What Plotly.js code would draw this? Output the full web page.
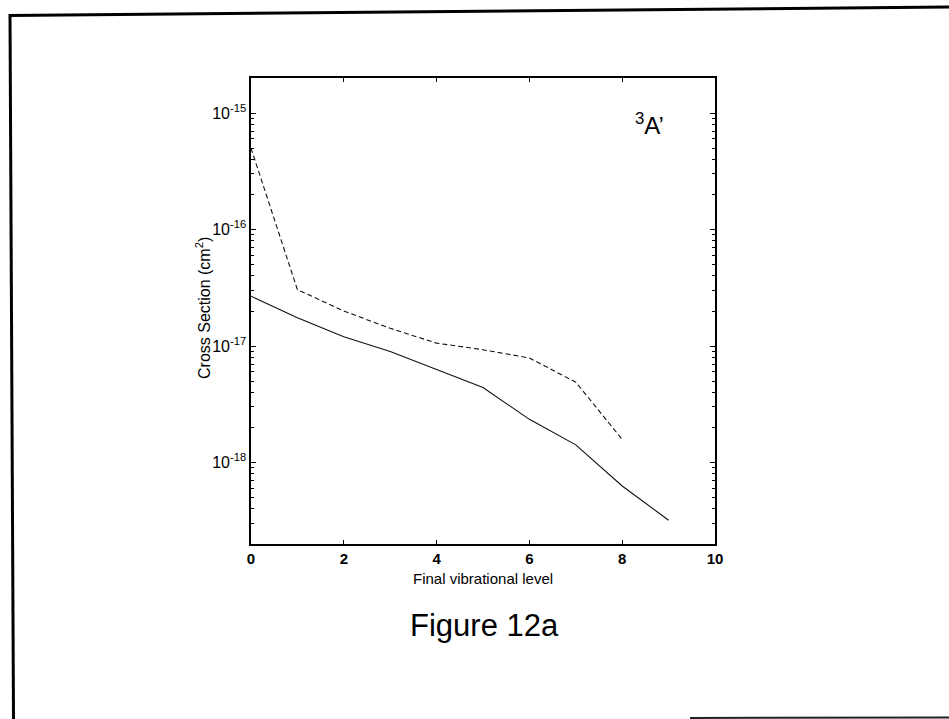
<!DOCTYPE html>
<html>
<head>
<meta charset="utf-8">
<script src="https://cdn.plot.ly/plotly-3.0.1.min.js"></script>
<style>html,body{margin:0;padding:0;background:#fff;}#chart{width:949px;height:719px;}</style>
</head>
<body>
<div id="chart"></div>
<script>
// Data
var levels = [0, 1, 2, 3, 4, 5, 6, 7, 8, 9];
var solidValues = [2.68e-17, 1.75e-17, 1.2e-17, 9.0e-18, 6.3e-18, 4.4e-18, 2.35e-18, 1.42e-18, 6.3e-19, 3.2e-19];
var dashedLevels = [0, 1, 2, 3, 4, 5, 6, 7, 8];
var dashedValues = [5.0e-16, 3.05e-17, 2.0e-17, 1.42e-17, 1.06e-17, 9.3e-18, 7.9e-18, 4.9e-18, 1.58e-18];
var xTickVals = [0, 2, 4, 6, 8, 10];
var yTickVals = [1e-18, 1e-17, 1e-16, 1e-15];
var yTickText = ['10<sup>-18</sup>', '10<sup>-17</sup>', '10<sup>-16</sup>', '10<sup>-15</sup>'];
var decades = [1e-19, 1e-18, 1e-17, 1e-16, 1e-15];
var minorDigits = [2, 3, 4, 5, 6, 7, 8, 9];

var minorTickVals = [];
decades.forEach(function (d) { minorDigits.forEach(function (m) { minorTickVals.push(d * m); }); });

var W = 949, H = 719;
var L = 251, R = 715, T = 78, B = 544;
function px(x) { return (x - L) / (R - L); }
function py(y) { return (B - y) / (B - T); }

var font = 'Liberation Sans, Arial, Helvetica, sans-serif';

var traces = [
  {x: levels, y: solidValues, mode: 'lines', type: 'scatter',
   line: {color: '#111', width: 1.1}, showlegend: false, hoverinfo: 'skip'},
  {x: dashedLevels, y: dashedValues, mode: 'lines', type: 'scatter',
   line: {color: '#111', width: 1.1, dash: '5px,3px'}, showlegend: false, hoverinfo: 'skip'}
];

var layout = {
  width: W, height: H,
  margin: {l: L, r: W - R, t: T, b: H - B, pad: 0},
  paper_bgcolor: '#fff', plot_bgcolor: '#fff',
  font: {family: font, color: '#000', size: 16},
  xaxis: {
    range: [0, 10], tickvals: xTickVals, ticktext: xTickVals.map(String),
    ticks: 'inside', ticklen: 4, tickwidth: 1, tickcolor: '#000',
    showline: true, linecolor: '#000', linewidth: 1.6, mirror: 'ticks',
    showgrid: false, zeroline: false,
    tickfont: {family: font, size: 15, color: '#000', weight: 'bold'}
  },
  yaxis: {
    type: 'log', range: [Math.log10(2e-19), Math.log10(2e-15)],
    tickvals: yTickVals, ticktext: yTickText,
    ticks: 'inside', ticklen: 5, tickwidth: 1, tickcolor: '#000',
    minor: {tickvals: minorTickVals, ticks: 'inside', ticklen: 3, tickcolor: '#000', tickwidth: 1, showgrid: false},
    showline: true, linecolor: '#000', linewidth: 1.6, mirror: 'ticks',
    showgrid: false, zeroline: false,
    tickfont: {family: font, size: 16, color: '#000'}
  },
  annotations: [
    {xref: 'paper', yref: 'paper', x: px(649), y: py(124), text: '<sup>3</sup>A\u2019',
     showarrow: false, font: {family: font, size: 24, color: '#000'}, xanchor: 'center', yanchor: 'middle'},
    {xref: 'paper', yref: 'paper', x: px(483), y: py(578), text: 'Final vibrational level',
     showarrow: false, font: {family: font, size: 15, color: '#000'}, xanchor: 'center', yanchor: 'middle'},
    {xref: 'paper', yref: 'paper', x: px(203), y: py(308), text: 'Cross Section (cm<sup>2</sup>)',
     showarrow: false, textangle: -90, font: {family: font, size: 16, color: '#000'}, xanchor: 'center', yanchor: 'middle'},
    {xref: 'paper', yref: 'paper', x: px(484), y: py(625), text: 'Figure 12a',
     showarrow: false, font: {family: font, size: 31, color: '#000'}, xanchor: 'center', yanchor: 'middle'}
  ],
  shapes: [
    {type: 'line', xref: 'paper', yref: 'paper', x0: px(9), y0: py(15.5), x1: px(949), y1: py(7),
     line: {color: '#000', width: 3}},
    {type: 'line', xref: 'paper', yref: 'paper', x0: px(10), y0: py(14), x1: px(13.5), y1: py(719),
     line: {color: '#000', width: 3}},
    {type: 'line', xref: 'paper', yref: 'paper', x0: px(690), y0: py(718), x1: px(949), y1: py(717.5),
     line: {color: '#222', width: 2}}
  ]
};

Plotly.newPlot('chart', traces, layout, {staticPlot: true, displayModeBar: false});
</script>
</body>
</html>
